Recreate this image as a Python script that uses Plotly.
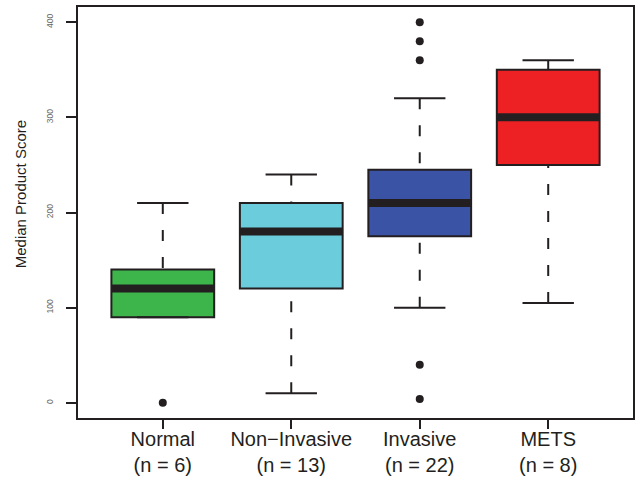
import plotly.graph_objects as go

# ---- data ----
groups = ["Normal", "Non\u2212Invasive", "Invasive", "METS"]
n_sizes = [6, 13, 22, 8]
q1 = [90, 120, 175, 250]
medians = [120, 180, 210, 300]
q3 = [140, 210, 245, 350]
whisker_low = [90, 10, 100, 105]
whisker_high = [210, 240, 320, 360]
outlier_group = [1, 3, 3, 3, 3, 3]
outlier_values = [0, 400, 380, 360, 40, 4]
box_colors = ["#3db54a", "#6bcddc", "#3a53a4", "#ed2024"]
y_ticks = [0, 100, 200, 300, 400]
y_title = "Median Product Score"

INK = "#231f20"
FONT = "Liberation Sans, Arial, sans-serif"
pos = list(range(1, len(groups) + 1))
box_w = 0.8
cap_w = 0.4

fig = go.Figure()

# boxes (interquartile range)
fig.add_trace(go.Bar(
    x=pos, y=[b - a for a, b in zip(q1, q3)], base=q1, width=box_w,
    marker=dict(color=box_colors, line=dict(color=INK, width=2)),
    showlegend=False, hoverinfo="skip"))

# dashed whiskers (drawn from whisker end towards the hinge)
wx, wy = [], []
for p, lo, a, b, hi in zip(pos, whisker_low, q1, q3, whisker_high):
    wx += [p, p, None, p, p, None]
    wy += [hi, b, None, lo, a, None]
fig.add_trace(go.Scatter(x=wx, y=wy, mode="lines",
                         line=dict(color=INK, width=2, dash="11px,16px"),
                         showlegend=False, hoverinfo="skip"))

# whisker caps
cx, cy = [], []
for p, lo, hi in zip(pos, whisker_low, whisker_high):
    cx += [p - cap_w / 2, p + cap_w / 2, None, p - cap_w / 2, p + cap_w / 2, None]
    cy += [hi, hi, None, lo, lo, None]
fig.add_trace(go.Scatter(x=cx, y=cy, mode="lines",
                         line=dict(color=INK, width=2),
                         showlegend=False, hoverinfo="skip"))

# medians
mx, my = [], []
for p, m in zip(pos, medians):
    mx += [p - box_w / 2, p + box_w / 2, None]
    my += [m, m, None]
fig.add_trace(go.Scatter(x=mx, y=my, mode="lines",
                         line=dict(color=INK, width=8),
                         showlegend=False, hoverinfo="skip"))

# outliers
fig.add_trace(go.Scatter(x=outlier_group, y=outlier_values, mode="markers",
                         marker=dict(color=INK, size=8),
                         showlegend=False, hoverinfo="skip"))

fig.update_layout(
    width=640, height=477,
    margin=dict(l=78, r=7, t=7, b=59),
    paper_bgcolor="white", plot_bgcolor="white",
    font=dict(family=FONT, color=INK),
    showlegend=False,
    xaxis=dict(
        range=[0.34, 4.66],
        automargin=False,
        tickvals=pos,
        ticktext=[f"{g}<br>(n = {n})" for g, n in zip(groups, n_sizes)],
        tickfont=dict(size=20, color=INK, family=FONT),
        ticklabelstandoff=-7,
        ticks="outside", ticklen=9, tickwidth=2, tickcolor=INK,
        showline=True, mirror=True, linecolor=INK, linewidth=2,
        showgrid=False, zeroline=False,
    ),
    yaxis=dict(
        range=[-16, 416],
        automargin=False,
        tickvals=y_ticks,
        tickangle=-90,
        tickfont=dict(size=8.5, color="#666666", family=FONT),
        ticklabelstandoff=10,
        ticks="outside", ticklen=10, tickwidth=2, tickcolor=INK,
        showline=True, mirror=True, linecolor=INK, linewidth=2,
        showgrid=False, zeroline=False,
    ),
    annotations=[dict(
        text=y_title, textangle=-90, showarrow=False,
        xref="paper", yref="paper", x=-0.104, y=0.545,
        xanchor="center", yanchor="middle",
        font=dict(size=15, color=INK, family=FONT),
    )],
)

fig.write_html("out.html")
